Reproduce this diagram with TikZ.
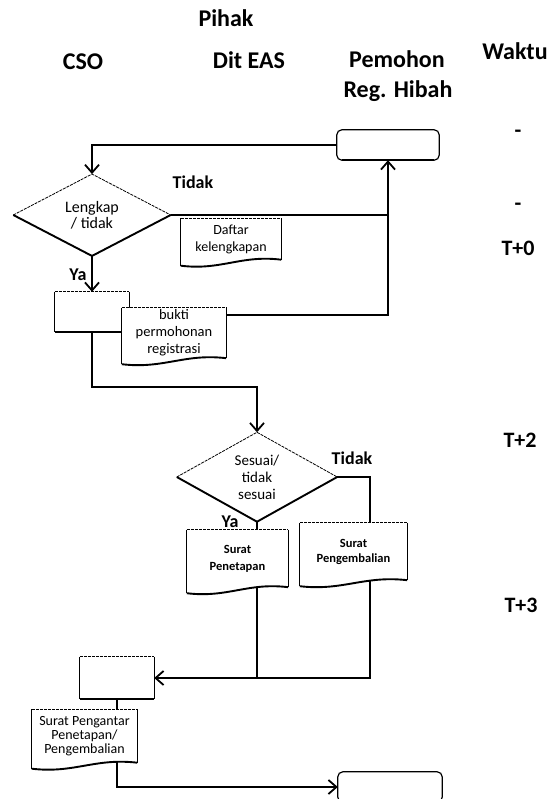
\documentclass[tikz,border=0pt]{standalone}
\usepackage{fontspec}
\setmainfont{Carlito}
\usetikzlibrary{shapes.geometric,arrows.meta,calc}
\pgfdeclarelayer{bg}
\pgfdeclarelayer{mid}
\pgfsetlayers{bg,mid,main}
\newcommand\rectout[1]{%
  \fill[white] (#1.north west) rectangle (#1.south east);
  \draw[sideline] (#1.north west) -- (#1.south west) (#1.north east) -- (#1.south east);
  \draw[botline] (#1.south west) -- (#1.south east);
  \draw[topline] (#1.north west) -- (#1.north east);}
\newcommand\roundout[1]{%
  \draw[sideline, fill=white, rounded corners=5pt] (#1.north west) rectangle (#1.south east);
  \draw[botline] ($(#1.south west)+(5,0)$) -- ($(#1.south east)+(-5,0)$);}
\newcommand\diaout[1]{%
  \draw[topline] (#1.west) -- (#1.north) -- (#1.east);
  \draw[botline] (#1.west) -- (#1.south) -- (#1.east);}
\newcommand\docout[1]{%
  \path let \p1=(#1.south west), \p2=(#1.south east), \n1={\x2-\x1} in
    coordinate (#1-a) at (\x2-0.4*\n1,\y2+5pt)
    coordinate (#1-b) at (\x1+0.4*\n1,\y1-11pt)
    coordinate (#1-c) at (\x1,\y1-6pt);
  \fill[white] (#1.north west) -- (#1.north east) -- (#1.south east) .. controls (#1-a) and (#1-b) .. (#1-c) -- cycle;
  \draw[sideline] (#1.north west) -- (#1-c) (#1.north east) -- (#1.south east);
  \draw[botline] (#1.south east) .. controls (#1-a) and (#1-b) .. (#1-c);
  \draw[topline] (#1.north west) -- (#1.north east);}
\begin{document}
\begin{tikzpicture}[x=1pt,y=-1pt,
  conn/.style={line width=2pt},
  arr/.style={conn, -{Straight Barb[length=8pt,width=14pt,line width=1.8pt]}},
  hdr/.style={font=\bfseries\fontsize{24}{26}\selectfont, inner sep=0, anchor=base, align=center},
  tm/.style={font=\bfseries\fontsize{22}{24}\selectfont, inner sep=0, anchor=base},
  lbl/.style={font=\bfseries\fontsize{18}{20}\selectfont, inner sep=0},
  dec/.style={diamond, inner sep=0, align=center, font=\fontsize{16}{16}\selectfont},
  plain/.style={rectangle, inner sep=0},
  docnode/.style={rectangle, inner sep=0, align=center},
  topline/.style={line width=0.8pt, dash pattern=on 3pt off 1pt},
  sideline/.style={line width=1.2pt},
  botline/.style={line width=1.9pt}]
\useasboundingbox (0,0) rectangle (559,799);
\clip (0,0) rectangle (559,799);
% headers
\node[hdr] (hpihak) at (226,27) {Pihak};
\node[hdr] (hcso) at (83,70) {CSO};
\node[hdr] (hdit) at (249,69) {Dit EAS};
\node[hdr] (hpem) at (397,68) {Pemohon};
\node[hdr] (hreg) at (398,98) {Reg. Hibah};
\node[hdr] (hwak) at (515,60) {Waktu};
% time column
\node[tm] (t1) at (518,138) {-};
\node[tm] (t2) at (518,211) {-};
\node[tm] (t3) at (518,255) {T+0};
\node[tm] (t4) at (520,447) {T+2};
\node[tm] (t5) at (521,612) {T+3};
% shapes
\node[plain, minimum width=102pt, minimum height=30pt] (box1) at (388,145) {};
\node[dec, minimum width=157pt, minimum height=70pt] (dia1) at (92,215) {Lengkap\\/ tidak};
\node[docnode, minimum width=100pt, minimum height=41pt, font=\fontsize{14}{17}\selectfont] (daftar) at (231,239) {Daftar\\kelengkapan};
\node[plain, minimum width=74pt, minimum height=40pt] (r1) at (92,312) {};
\node[docnode, minimum width=104pt, minimum height=50pt, font=\fontsize{14.5}{17}\selectfont] (bukti) at (174,333) {bukti\\permohonan\\registrasi};
\node[dec, minimum width=160pt, minimum height=74pt, font=\fontsize{15}{17}\selectfont] (dia2) at (257,477) {Sesuai/\\tidak\\sesuai};
\node[docnode, minimum width=101pt, minimum height=57pt, font=\bfseries\fontsize{12.5}{17}\selectfont] (penet) at (237.5,558.5) {Surat\\Penetapan};
\node[docnode, minimum width=107pt, minimum height=57pt, font=\bfseries\fontsize{12.5}{15}\selectfont] (pengb) at (353.5,551.5) {Surat\\Pengembalian};
\node[plain, minimum width=74pt, minimum height=42pt] (r2) at (117,678) {};
\node[docnode, minimum width=105pt, minimum height=53pt, font=\fontsize{14}{14}\selectfont] (pengantar) at (84.5,736) {Surat Pengantar\\Penetapan/\\Pengembalian};
\node[plain, minimum width=104pt, minimum height=30pt] (box2) at (390,787) {};
% labels
\node[lbl] (tidak1) at (193,182) {Tidak};
\node[lbl] (ya1) at (78,275) {Ya};
\node[lbl] (tidak2) at (352,458) {Tidak};
\node[lbl] (ya2) at (230,522) {Ya};
% junction coordinates
\coordinate (j1) at (388,315);
\coordinate (j2) at (175,387);
\coordinate (j3) at (370,678);
% shape outlines
\begin{pgfonlayer}{mid}
\roundout{box1}
\roundout{box2}
\diaout{dia1}
\diaout{dia2}
\rectout{r1}
\rectout{r2}
\docout{daftar}
\docout{bukti}
\docout{penet}
\docout{pengb}
\docout{pengantar}
\end{pgfonlayer}
% connectors
\begin{pgfonlayer}{bg}
\draw[arr] (box1.west) -| (dia1.north);
\draw[conn] (dia1.east) -- (dia1.east -| j1);
\draw[arr] (j1 -| bukti.east) -- (j1) -- (box1.south);
\draw[arr] (dia1.south) -- (r1.north);
\draw[arr] (r1.south) |- (j2) -| (dia2.north);
\draw[arr] (dia2.east) -| (j3) -- (r2.east);
\draw[conn] (dia2.south) -- (dia2.south |- j3);
\draw[arr] (r2.south) |- (box2.west);
\end{pgfonlayer}
\end{tikzpicture}
\end{document}
